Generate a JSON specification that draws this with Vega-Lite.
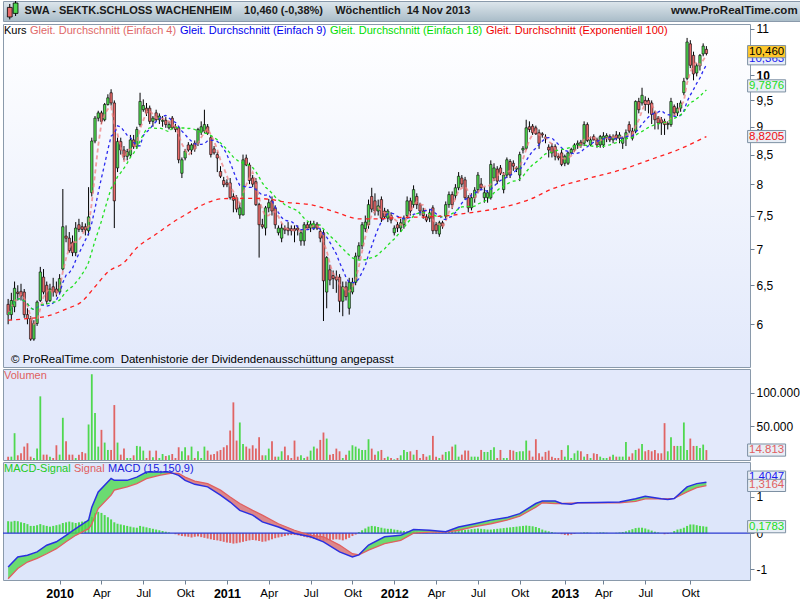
{
"$schema": "https://vega.github.io/schema/vega-lite/v6.json",
"background": "#ffffff",
"padding": {"left": 1, "top": 0, "right": 0, "bottom": 0},
"spacing": 0,
"resolve": {"scale": {"color": "independent"}, "legend": {"color": "independent"}},
"config": {
  "font": "'Liberation Sans',Arial,sans-serif",
  "view": {"stroke": "#8a9aab"},
  "axis": {"labelFont": "'Liberation Sans',Arial,sans-serif", "labelFontSize": 12, "labelColor": "#000000", "tickColor": "#6f8194", "tickSize": 4, "domain": false, "grid": false, "labelPadding": 2},
  "legend": {"orient": "top-left", "direction": "horizontal", "offset": 1, "padding": 0, "symbolType": "circle", "symbolSize": 0, "symbolStrokeWidth": 0, "symbolOpacity": 0, "labelOffset": -11, "columnPadding": 3, "labelFont": "'Liberation Sans',Arial,sans-serif", "labelFontSize": 11, "labelLimit": 600}
},
"datasets": {
"w": [
{"d":"2009-09-14","o":6.25,"h":6.32,"l":6.0,"c":6.12,"v":5000,"m":0.33},
{"d":"2009-09-21","o":6.12,"h":6.4,"l":6.05,"c":6.3,"v":5000,"m":0.32},
{"d":"2009-09-28","o":6.22,"h":6.55,"l":6.15,"c":6.46,"v":40000,"m":0.34},
{"d":"2009-10-05","o":6.41,"h":6.5,"l":6.3,"c":6.39,"v":7000,"m":0.33},
{"d":"2009-10-12","o":6.42,"h":6.52,"l":6.3,"c":6.36,"v":10000,"m":0.3},
{"d":"2009-10-19","o":6.41,"h":6.45,"l":6.08,"c":6.12,"v":20000,"m":0.28},
{"d":"2009-10-26","o":6.12,"h":6.2,"l":6.0,"c":6.07,"v":25000,"m":0.25},
{"d":"2009-11-02","o":6.07,"h":6.1,"l":5.8,"c":5.82,"v":5000,"m":0.2},
{"d":"2009-11-09","o":5.82,"h":6.05,"l":5.8,"c":6.01,"v":3000,"m":0.2},
{"d":"2009-11-16","o":6.01,"h":6.3,"l":5.98,"c":6.28,"v":17000,"m":0.22},
{"d":"2009-11-23","o":6.3,"h":6.75,"l":6.28,"c":6.68,"v":95000,"m":0.25},
{"d":"2009-11-30","o":6.61,"h":6.72,"l":6.38,"c":6.41,"v":8000,"m":0.22},
{"d":"2009-12-07","o":6.5,"h":6.55,"l":6.25,"c":6.29,"v":8000,"m":0.2},
{"d":"2009-12-14","o":6.3,"h":6.52,"l":6.28,"c":6.45,"v":5000,"m":0.18},
{"d":"2009-12-21","o":6.48,"h":6.6,"l":6.35,"c":6.41,"v":3000,"m":0.2},
{"d":"2009-12-28","o":6.45,"h":6.55,"l":6.35,"c":6.4,"v":22000,"m":0.22},
{"d":"2010-01-04","o":6.41,"h":6.65,"l":6.38,"c":6.59,"v":8000,"m":0.24},
{"d":"2010-01-11","o":6.72,"h":7.92,"l":6.7,"c":7.33,"v":63000,"m":0.28},
{"d":"2010-01-18","o":7.19,"h":7.35,"l":7.1,"c":7.16,"v":28000,"m":0.3},
{"d":"2010-01-25","o":7.16,"h":7.25,"l":6.95,"c":6.98,"v":8000,"m":0.32},
{"d":"2010-02-01","o":7.1,"h":7.2,"l":6.9,"c":6.95,"v":8000,"m":0.3},
{"d":"2010-02-08","o":6.95,"h":7.4,"l":6.9,"c":7.31,"v":3000,"m":0.28},
{"d":"2010-02-15","o":7.36,"h":7.45,"l":7.25,"c":7.29,"v":8000,"m":0.3},
{"d":"2010-02-22","o":7.33,"h":7.4,"l":7.25,"c":7.29,"v":12000,"m":0.32},
{"d":"2010-03-01","o":7.33,"h":7.38,"l":7.2,"c":7.28,"v":10000,"m":0.33},
{"d":"2010-03-08","o":7.27,"h":7.95,"l":7.2,"c":7.48,"v":53000,"m":0.38},
{"d":"2010-03-15","o":7.86,"h":8.8,"l":7.8,"c":8.74,"v":128000,"m":0.45},
{"d":"2010-03-22","o":8.74,"h":9.2,"l":8.7,"c":9.16,"v":70000,"m":0.55},
{"d":"2010-03-29","o":9.16,"h":9.3,"l":9.1,"c":9.26,"v":20000,"m":0.59},
{"d":"2010-04-05","o":9.26,"h":9.3,"l":9.05,"c":9.1,"v":45000,"m":0.56},
{"d":"2010-04-12","o":9.13,"h":9.45,"l":9.1,"c":9.42,"v":26000,"m":0.5},
{"d":"2010-04-19","o":9.42,"h":9.62,"l":9.4,"c":9.55,"v":15000,"m":0.44},
{"d":"2010-04-26","o":9.65,"h":9.72,"l":9.4,"c":9.45,"v":15000,"m":0.38},
{"d":"2010-05-03","o":9.45,"h":9.5,"l":7.31,"c":7.73,"v":82000,"m":0.3},
{"d":"2010-05-10","o":8.27,"h":8.8,"l":8.2,"c":8.73,"v":26000,"m":0.26},
{"d":"2010-05-17","o":8.73,"h":8.8,"l":8.5,"c":8.58,"v":8000,"m":0.24},
{"d":"2010-05-24","o":8.58,"h":8.65,"l":8.4,"c":8.47,"v":17000,"m":0.22},
{"d":"2010-05-31","o":8.47,"h":8.6,"l":8.4,"c":8.55,"v":3000,"m":0.2},
{"d":"2010-06-07","o":8.49,"h":8.85,"l":8.45,"c":8.76,"v":3000,"m":0.18},
{"d":"2010-06-14","o":8.76,"h":8.85,"l":8.6,"c":8.64,"v":7000,"m":0.16},
{"d":"2010-06-21","o":8.64,"h":9.0,"l":8.6,"c":8.95,"v":21000,"m":0.15},
{"d":"2010-06-28","o":9.04,"h":9.65,"l":9.0,"c":9.48,"v":20000,"m":0.2},
{"d":"2010-07-05","o":9.32,"h":9.52,"l":9.28,"c":9.4,"v":14000,"m":0.18},
{"d":"2010-07-12","o":9.35,"h":9.45,"l":9.2,"c":9.26,"v":3000,"m":0.16},
{"d":"2010-07-19","o":9.35,"h":9.4,"l":9.05,"c":9.1,"v":14000,"m":0.14},
{"d":"2010-07-26","o":9.1,"h":9.2,"l":9.0,"c":9.16,"v":4000,"m":0.12},
{"d":"2010-08-02","o":9.26,"h":9.32,"l":9.1,"c":9.13,"v":14000,"m":0.1},
{"d":"2010-08-09","o":9.13,"h":9.25,"l":9.05,"c":9.2,"v":3000,"m":0.08},
{"d":"2010-08-16","o":9.1,"h":9.2,"l":9.0,"c":9.12,"v":9000,"m":0.06},
{"d":"2010-08-23","o":9.12,"h":9.18,"l":8.98,"c":9.04,"v":6000,"m":0.04},
{"d":"2010-08-30","o":8.98,"h":9.1,"l":8.95,"c":9.04,"v":7000,"m":0.02},
{"d":"2010-09-06","o":9.16,"h":9.2,"l":8.95,"c":8.98,"v":9000,"m":0.0},
{"d":"2010-09-13","o":9.0,"h":9.05,"l":8.9,"c":8.95,"v":3000,"m":-0.03},
{"d":"2010-09-20","o":8.98,"h":9.0,"l":8.35,"c":8.41,"v":19000,"m":-0.06},
{"d":"2010-09-27","o":8.18,"h":8.45,"l":8.1,"c":8.41,"v":13000,"m":-0.08},
{"d":"2010-10-04","o":8.44,"h":8.6,"l":8.4,"c":8.56,"v":19000,"m":-0.09},
{"d":"2010-10-11","o":8.67,"h":8.72,"l":8.55,"c":8.58,"v":7000,"m":-0.1},
{"d":"2010-10-18","o":8.58,"h":8.7,"l":8.5,"c":8.67,"v":20000,"m":-0.12},
{"d":"2010-10-25","o":8.7,"h":8.75,"l":8.55,"c":8.6,"v":3000,"m":-0.1},
{"d":"2010-11-01","o":8.7,"h":8.98,"l":8.65,"c":8.95,"v":13000,"m":-0.09},
{"d":"2010-11-08","o":8.9,"h":9.1,"l":8.85,"c":9.0,"v":3000,"m":-0.11},
{"d":"2010-11-15","o":8.92,"h":9.32,"l":8.88,"c":9.04,"v":20000,"m":-0.13},
{"d":"2010-11-22","o":9.0,"h":9.05,"l":8.85,"c":8.88,"v":14000,"m":-0.15},
{"d":"2010-11-29","o":8.8,"h":8.85,"l":8.45,"c":8.5,"v":8000,"m":-0.17},
{"d":"2010-12-06","o":8.6,"h":8.65,"l":8.5,"c":8.53,"v":9000,"m":-0.19},
{"d":"2010-12-13","o":8.5,"h":8.55,"l":8.2,"c":8.44,"v":13000,"m":-0.2},
{"d":"2010-12-20","o":8.21,"h":8.3,"l":8.1,"c":8.13,"v":15000,"m":-0.22},
{"d":"2010-12-27","o":8.06,"h":8.12,"l":7.95,"c":7.99,"v":19000,"m":-0.24},
{"d":"2011-01-03","o":8.02,"h":8.08,"l":7.95,"c":7.99,"v":22000,"m":-0.26},
{"d":"2011-01-10","o":8.02,"h":8.1,"l":7.75,"c":7.78,"v":44000,"m":-0.27},
{"d":"2011-01-17","o":7.8,"h":7.85,"l":7.55,"c":7.74,"v":86000,"m":-0.29},
{"d":"2011-01-24","o":7.78,"h":7.82,"l":7.55,"c":7.6,"v":29000,"m":-0.28},
{"d":"2011-01-31","o":7.51,"h":7.7,"l":7.45,"c":7.62,"v":56000,"m":-0.26},
{"d":"2011-02-07","o":7.51,"h":8.5,"l":7.5,"c":8.41,"v":24000,"m":-0.24},
{"d":"2011-02-14","o":8.44,"h":8.5,"l":8.3,"c":8.32,"v":20000,"m":-0.22},
{"d":"2011-02-21","o":8.32,"h":8.36,"l":8.0,"c":8.06,"v":17000,"m":-0.2},
{"d":"2011-02-28","o":8.1,"h":8.15,"l":7.95,"c":8.0,"v":22000,"m":-0.19},
{"d":"2011-03-07","o":8.04,"h":8.1,"l":7.65,"c":7.67,"v":17000,"m":-0.2},
{"d":"2011-03-14","o":7.67,"h":7.7,"l":6.88,"c":7.36,"v":34000,"m":-0.22},
{"d":"2011-03-21","o":7.36,"h":7.45,"l":7.3,"c":7.33,"v":7000,"m":-0.24},
{"d":"2011-03-28","o":7.31,"h":7.65,"l":7.2,"c":7.62,"v":7000,"m":-0.23},
{"d":"2011-04-04","o":7.62,"h":7.76,"l":7.55,"c":7.7,"v":17000,"m":-0.2},
{"d":"2011-04-11","o":7.73,"h":7.8,"l":7.5,"c":7.57,"v":28000,"m":-0.17},
{"d":"2011-04-18","o":7.62,"h":7.66,"l":7.3,"c":7.36,"v":5000,"m":-0.14},
{"d":"2011-04-25","o":7.24,"h":7.35,"l":7.2,"c":7.31,"v":5000,"m":-0.12},
{"d":"2011-05-02","o":7.16,"h":7.38,"l":7.1,"c":7.31,"v":13000,"m":-0.1},
{"d":"2011-05-09","o":7.31,"h":7.35,"l":7.22,"c":7.28,"v":20000,"m":-0.08},
{"d":"2011-05-16","o":7.31,"h":7.4,"l":7.2,"c":7.27,"v":7000,"m":-0.06},
{"d":"2011-05-23","o":7.3,"h":7.35,"l":7.2,"c":7.27,"v":3000,"m":-0.05},
{"d":"2011-05-30","o":7.3,"h":7.35,"l":7.1,"c":7.27,"v":29000,"m":-0.05},
{"d":"2011-06-06","o":7.31,"h":7.35,"l":7.2,"c":7.28,"v":5000,"m":-0.06},
{"d":"2011-06-13","o":7.12,"h":7.28,"l":7.05,"c":7.24,"v":7000,"m":-0.08},
{"d":"2011-06-20","o":7.12,"h":7.4,"l":7.05,"c":7.36,"v":3000,"m":-0.1},
{"d":"2011-06-27","o":7.36,"h":7.4,"l":7.28,"c":7.31,"v":5000,"m":-0.12},
{"d":"2011-07-04","o":7.31,"h":7.42,"l":7.25,"c":7.37,"v":14000,"m":-0.14},
{"d":"2011-07-11","o":7.31,"h":7.42,"l":7.28,"c":7.37,"v":20000,"m":-0.16},
{"d":"2011-07-18","o":7.37,"h":7.4,"l":7.28,"c":7.31,"v":17000,"m":-0.18},
{"d":"2011-07-25","o":7.26,"h":7.3,"l":7.1,"c":7.16,"v":30000,"m":-0.2},
{"d":"2011-08-01","o":7.24,"h":7.28,"l":6.04,"c":6.56,"v":41000,"m":-0.21},
{"d":"2011-08-08","o":6.41,"h":6.9,"l":6.2,"c":6.88,"v":32000,"m":-0.2},
{"d":"2011-08-15","o":6.71,"h":6.78,"l":6.5,"c":6.57,"v":8000,"m":-0.19},
{"d":"2011-08-22","o":6.63,"h":6.7,"l":6.45,"c":6.59,"v":9000,"m":-0.18},
{"d":"2011-08-29","o":6.61,"h":6.7,"l":6.4,"c":6.57,"v":17000,"m":-0.17},
{"d":"2011-09-05","o":6.61,"h":6.65,"l":6.15,"c":6.29,"v":13000,"m":-0.18},
{"d":"2011-09-12","o":6.29,"h":6.55,"l":6.1,"c":6.48,"v":3000,"m":-0.2},
{"d":"2011-09-19","o":6.48,"h":6.55,"l":6.3,"c":6.35,"v":8000,"m":-0.17},
{"d":"2011-09-26","o":6.2,"h":6.6,"l":6.12,"c":6.54,"v":14000,"m":-0.13},
{"d":"2011-10-03","o":6.41,"h":6.6,"l":6.38,"c":6.54,"v":22000,"m":-0.08},
{"d":"2011-10-10","o":6.54,"h":6.95,"l":6.5,"c":6.9,"v":20000,"m":-0.04},
{"d":"2011-10-17","o":6.9,"h":7.1,"l":6.85,"c":7.05,"v":17000,"m":0.03},
{"d":"2011-10-24","o":7.05,"h":7.4,"l":7.0,"c":7.36,"v":15000,"m":0.08},
{"d":"2011-10-31","o":7.3,"h":7.5,"l":7.25,"c":7.4,"v":15000,"m":0.13},
{"d":"2011-11-07","o":7.36,"h":7.75,"l":7.3,"c":7.67,"v":31000,"m":0.18},
{"d":"2011-11-14","o":7.8,"h":7.94,"l":7.55,"c":7.6,"v":17000,"m":0.2},
{"d":"2011-11-21","o":7.73,"h":7.85,"l":7.5,"c":7.57,"v":8000,"m":0.19},
{"d":"2011-11-28","o":7.57,"h":7.75,"l":7.5,"c":7.65,"v":13000,"m":0.17},
{"d":"2011-12-05","o":7.75,"h":7.8,"l":7.4,"c":7.46,"v":15000,"m":0.15},
{"d":"2011-12-12","o":7.57,"h":7.62,"l":7.45,"c":7.48,"v":3000,"m":0.13},
{"d":"2011-12-19","o":7.46,"h":7.6,"l":7.4,"c":7.57,"v":5000,"m":0.12},
{"d":"2011-12-26","o":7.5,"h":7.55,"l":7.38,"c":7.43,"v":3000,"m":0.12},
{"d":"2012-01-02","o":7.24,"h":7.35,"l":7.2,"c":7.31,"v":1000,"m":0.1},
{"d":"2012-01-09","o":7.36,"h":7.4,"l":7.25,"c":7.31,"v":3000,"m":0.09},
{"d":"2012-01-16","o":7.31,"h":7.45,"l":7.25,"c":7.39,"v":7000,"m":0.07},
{"d":"2012-01-23","o":7.36,"h":7.5,"l":7.3,"c":7.46,"v":15000,"m":0.06},
{"d":"2012-01-30","o":7.5,"h":7.8,"l":7.45,"c":7.73,"v":12000,"m":0.05},
{"d":"2012-02-06","o":7.73,"h":7.78,"l":7.5,"c":7.57,"v":13000,"m":0.04},
{"d":"2012-02-13","o":7.67,"h":7.98,"l":7.62,"c":7.91,"v":8000,"m":0.05},
{"d":"2012-02-20","o":7.8,"h":7.85,"l":7.6,"c":7.67,"v":15000,"m":0.04},
{"d":"2012-02-27","o":7.67,"h":7.7,"l":7.5,"c":7.57,"v":3000,"m":0.03},
{"d":"2012-03-05","o":7.57,"h":7.62,"l":7.45,"c":7.5,"v":9000,"m":0.02},
{"d":"2012-03-12","o":7.48,"h":7.52,"l":7.4,"c":7.43,"v":5000,"m":0.01},
{"d":"2012-03-19","o":7.46,"h":7.6,"l":7.4,"c":7.54,"v":7000,"m":0.0},
{"d":"2012-03-26","o":7.62,"h":7.66,"l":7.22,"c":7.27,"v":36000,"m":0.01},
{"d":"2012-04-02","o":7.36,"h":7.4,"l":7.22,"c":7.27,"v":5000,"m":0.02},
{"d":"2012-04-09","o":7.22,"h":7.42,"l":7.18,"c":7.39,"v":3000,"m":0.03},
{"d":"2012-04-16","o":7.39,"h":7.42,"l":7.3,"c":7.34,"v":8000,"m":0.04},
{"d":"2012-04-23","o":7.49,"h":7.72,"l":7.45,"c":7.67,"v":12000,"m":0.06},
{"d":"2012-04-30","o":7.67,"h":7.88,"l":7.62,"c":7.83,"v":13000,"m":0.08},
{"d":"2012-05-07","o":7.83,"h":7.88,"l":7.6,"c":7.67,"v":20000,"m":0.09},
{"d":"2012-05-14","o":7.81,"h":8.0,"l":7.75,"c":7.94,"v":23000,"m":0.1},
{"d":"2012-05-21","o":7.94,"h":8.2,"l":7.9,"c":8.13,"v":5000,"m":0.11},
{"d":"2012-05-28","o":8.1,"h":8.15,"l":7.95,"c":8.0,"v":8000,"m":0.1},
{"d":"2012-06-04","o":8.07,"h":8.12,"l":7.75,"c":7.78,"v":14000,"m":0.09},
{"d":"2012-06-11","o":7.78,"h":7.82,"l":7.55,"c":7.62,"v":14000,"m":0.1},
{"d":"2012-06-18","o":7.62,"h":7.85,"l":7.58,"c":7.78,"v":5000,"m":0.11},
{"d":"2012-06-25","o":7.78,"h":7.95,"l":7.7,"c":7.9,"v":5000,"m":0.12},
{"d":"2012-07-02","o":7.91,"h":8.2,"l":7.85,"c":8.15,"v":5000,"m":0.13},
{"d":"2012-07-09","o":8.0,"h":8.1,"l":7.9,"c":7.94,"v":15000,"m":0.12},
{"d":"2012-07-16","o":7.78,"h":7.95,"l":7.7,"c":7.86,"v":12000,"m":0.11},
{"d":"2012-07-23","o":7.78,"h":7.9,"l":7.7,"c":7.86,"v":12000,"m":0.1},
{"d":"2012-07-30","o":7.78,"h":8.4,"l":7.75,"c":8.33,"v":15000,"m":0.1},
{"d":"2012-08-06","o":8.1,"h":8.35,"l":8.05,"c":8.27,"v":19000,"m":0.11},
{"d":"2012-08-13","o":8.25,"h":8.3,"l":8.0,"c":8.05,"v":3000,"m":0.12},
{"d":"2012-08-20","o":8.27,"h":8.32,"l":8.15,"c":8.18,"v":15000,"m":0.13},
{"d":"2012-08-27","o":7.91,"h":8.2,"l":7.85,"c":8.15,"v":3000,"m":0.14},
{"d":"2012-09-03","o":8.15,"h":8.45,"l":8.1,"c":8.41,"v":3000,"m":0.15},
{"d":"2012-09-10","o":8.38,"h":8.42,"l":8.1,"c":8.15,"v":15000,"m":0.16},
{"d":"2012-09-17","o":8.35,"h":8.4,"l":8.22,"c":8.3,"v":14000,"m":0.17},
{"d":"2012-09-24","o":8.25,"h":8.3,"l":8.2,"c":8.27,"v":12000,"m":0.18},
{"d":"2012-10-01","o":8.15,"h":8.55,"l":8.05,"c":8.5,"v":13000,"m":0.19},
{"d":"2012-10-08","o":8.58,"h":8.65,"l":8.52,"c":8.61,"v":13000,"m":0.2},
{"d":"2012-10-15","o":8.61,"h":9.13,"l":8.58,"c":8.98,"v":29000,"m":0.21},
{"d":"2012-10-22","o":9.0,"h":9.1,"l":8.9,"c":8.95,"v":14000,"m":0.2},
{"d":"2012-10-29","o":9.01,"h":9.05,"l":8.85,"c":8.89,"v":5000,"m":0.19},
{"d":"2012-11-05","o":8.98,"h":9.02,"l":8.85,"c":8.87,"v":31000,"m":0.17},
{"d":"2012-11-12","o":8.89,"h":8.95,"l":8.6,"c":8.7,"v":10000,"m":0.14},
{"d":"2012-11-19","o":8.87,"h":8.9,"l":8.8,"c":8.85,"v":5000,"m":0.1},
{"d":"2012-11-26","o":8.81,"h":8.86,"l":8.7,"c":8.79,"v":12000,"m":0.07},
{"d":"2012-12-03","o":8.63,"h":8.68,"l":8.45,"c":8.58,"v":14000,"m":0.05},
{"d":"2012-12-10","o":8.64,"h":8.7,"l":8.45,"c":8.53,"v":5000,"m":0.03},
{"d":"2012-12-17","o":8.64,"h":8.68,"l":8.4,"c":8.47,"v":3000,"m":0.01},
{"d":"2012-12-24","o":8.47,"h":8.52,"l":8.4,"c":8.44,"v":3000,"m":-0.01},
{"d":"2012-12-31","o":8.53,"h":8.58,"l":8.3,"c":8.33,"v":15000,"m":-0.03},
{"d":"2013-01-07","o":8.35,"h":8.5,"l":8.3,"c":8.47,"v":5000,"m":-0.05},
{"d":"2013-01-14","o":8.35,"h":8.55,"l":8.32,"c":8.53,"v":22000,"m":-0.06},
{"d":"2013-01-21","o":8.53,"h":8.62,"l":8.5,"c":8.59,"v":3000,"m":-0.04},
{"d":"2013-01-28","o":8.58,"h":8.7,"l":8.55,"c":8.67,"v":10000,"m":-0.02},
{"d":"2013-02-04","o":8.67,"h":8.75,"l":8.6,"c":8.7,"v":14000,"m":0.0},
{"d":"2013-02-11","o":8.72,"h":8.76,"l":8.62,"c":8.66,"v":13000,"m":0.01},
{"d":"2013-02-18","o":8.7,"h":9.1,"l":8.65,"c":9.04,"v":5000,"m":0.02},
{"d":"2013-02-25","o":9.04,"h":9.08,"l":8.72,"c":8.75,"v":9000,"m":0.02},
{"d":"2013-03-04","o":8.67,"h":8.82,"l":8.65,"c":8.76,"v":3000,"m":0.01},
{"d":"2013-03-11","o":8.82,"h":8.86,"l":8.75,"c":8.76,"v":10000,"m":0.0},
{"d":"2013-03-18","o":8.76,"h":8.8,"l":8.62,"c":8.67,"v":9000,"m":0.01},
{"d":"2013-03-25","o":8.67,"h":8.85,"l":8.62,"c":8.82,"v":5000,"m":0.02},
{"d":"2013-04-01","o":8.67,"h":8.9,"l":8.62,"c":8.83,"v":3000,"m":0.02},
{"d":"2013-04-08","o":8.8,"h":8.88,"l":8.72,"c":8.84,"v":3000,"m":0.01},
{"d":"2013-04-15","o":8.82,"h":8.86,"l":8.72,"c":8.76,"v":5000,"m":0.0},
{"d":"2013-04-22","o":8.76,"h":8.86,"l":8.7,"c":8.82,"v":8000,"m":0.0},
{"d":"2013-04-29","o":8.85,"h":8.92,"l":8.75,"c":8.79,"v":5000,"m":0.01},
{"d":"2013-05-06","o":8.79,"h":8.9,"l":8.7,"c":8.85,"v":5000,"m":0.02},
{"d":"2013-05-13","o":8.7,"h":8.82,"l":8.6,"c":8.79,"v":5000,"m":0.03},
{"d":"2013-05-20","o":8.79,"h":8.95,"l":8.65,"c":8.89,"v":27000,"m":0.05},
{"d":"2013-05-27","o":9.04,"h":9.1,"l":8.88,"c":8.92,"v":5000,"m":0.08},
{"d":"2013-06-03","o":8.92,"h":8.98,"l":8.75,"c":8.79,"v":10000,"m":0.11},
{"d":"2013-06-10","o":8.92,"h":9.5,"l":8.88,"c":9.48,"v":15000,"m":0.14},
{"d":"2013-06-17","o":9.48,"h":9.55,"l":9.25,"c":9.32,"v":17000,"m":0.15},
{"d":"2013-06-24","o":9.45,"h":9.75,"l":9.4,"c":9.6,"v":24000,"m":0.15},
{"d":"2013-07-01","o":9.5,"h":9.58,"l":9.3,"c":9.42,"v":13000,"m":0.13},
{"d":"2013-07-08","o":9.5,"h":9.55,"l":9.25,"c":9.42,"v":15000,"m":0.1},
{"d":"2013-07-15","o":9.45,"h":9.5,"l":9.05,"c":9.23,"v":13000,"m":0.07},
{"d":"2013-07-22","o":9.26,"h":9.3,"l":8.95,"c":9.13,"v":15000,"m":0.04},
{"d":"2013-07-29","o":9.16,"h":9.2,"l":8.95,"c":9.07,"v":10000,"m":0.02},
{"d":"2013-08-05","o":9.13,"h":9.18,"l":8.85,"c":9.07,"v":10000,"m":0.0},
{"d":"2013-08-12","o":9.1,"h":9.15,"l":8.85,"c":9.04,"v":55000,"m":-0.03},
{"d":"2013-08-19","o":9.04,"h":9.1,"l":8.95,"c":9.06,"v":13000,"m":-0.02},
{"d":"2013-08-26","o":9.04,"h":9.55,"l":9.0,"c":9.48,"v":34000,"m":0.01},
{"d":"2013-09-02","o":9.38,"h":9.42,"l":9.2,"c":9.26,"v":21000,"m":0.06},
{"d":"2013-09-09","o":9.26,"h":9.45,"l":9.2,"c":9.35,"v":21000,"m":0.1},
{"d":"2013-09-16","o":9.35,"h":9.5,"l":9.28,"c":9.45,"v":21000,"m":0.12},
{"d":"2013-09-23","o":9.65,"h":9.95,"l":9.6,"c":9.88,"v":56000,"m":0.15},
{"d":"2013-09-30","o":9.94,"h":10.8,"l":9.9,"c":10.71,"v":15000,"m":0.2},
{"d":"2013-10-07","o":10.67,"h":10.75,"l":10.15,"c":10.21,"v":32000,"m":0.24},
{"d":"2013-10-14","o":10.42,"h":10.5,"l":9.9,"c":10.03,"v":21000,"m":0.24},
{"d":"2013-10-21","o":10.05,"h":10.25,"l":9.98,"c":10.2,"v":21000,"m":0.22},
{"d":"2013-10-28","o":10.2,"h":10.45,"l":10.1,"c":10.42,"v":18000,"m":0.2},
{"d":"2013-11-04","o":10.45,"h":10.68,"l":10.4,"c":10.62,"v":23000,"m":0.19},
{"d":"2013-11-11","o":10.55,"h":10.62,"l":10.42,"c":10.46,"v":14813,"m":0.178}
],
"ema": [
{"d":"2009-09-14","e":6.05},{"d":"2009-10-26","e":6.07},{"d":"2009-12-07","e":6.1},{"d":"2010-01-18","e":6.19},{"d":"2010-02-22","e":6.29},{"d":"2010-03-22","e":6.48},{"d":"2010-04-19","e":6.68},{"d":"2010-05-24","e":6.81},{"d":"2010-06-21","e":7.02},{"d":"2010-08-02","e":7.22},{"d":"2010-09-06","e":7.39},{"d":"2010-10-11","e":7.54},{"d":"2010-11-15","e":7.68},{"d":"2010-12-20","e":7.76},{"d":"2011-01-24","e":7.77},{"d":"2011-02-28","e":7.77},{"d":"2011-04-11","e":7.75},{"d":"2011-05-09","e":7.71},{"d":"2011-07-11","e":7.66},{"d":"2011-08-29","e":7.55},{"d":"2011-10-17","e":7.45},{"d":"2011-11-28","e":7.45},{"d":"2012-01-16","e":7.47},{"d":"2012-03-19","e":7.48},{"d":"2012-04-30","e":7.5},{"d":"2012-06-11","e":7.54},{"d":"2012-08-06","e":7.6},{"d":"2012-09-17","e":7.67},{"d":"2012-10-22","e":7.75},{"d":"2012-12-10","e":7.92},{"d":"2013-02-25","e":8.09},{"d":"2013-05-06","e":8.23},{"d":"2013-07-15","e":8.42},{"d":"2013-09-09","e":8.58},{"d":"2013-11-11","e":8.82}
],
"macd": [
{"d":"2009-09-14","m":-0.935,"s":-1.26,"seg":1,"tr":"G"},{"d":"2009-10-05","m":-0.66,"s":-0.98,"seg":1,"tr":"G"},{"d":"2009-10-26","m":-0.61,"s":-0.8,"seg":1,"tr":"G"},{"d":"2009-11-16","m":-0.52,"s":-0.7,"seg":1,"tr":"G"},{"d":"2009-12-07","m":-0.335,"s":-0.57,"seg":1,"tr":"G"},{"d":"2009-12-28","m":-0.24,"s":-0.43,"seg":1,"tr":"G"},{"d":"2010-01-18","m":-0.06,"s":-0.24,"seg":1,"tr":"G"},{"d":"2010-02-08","m":0.125,"s":-0.06,"seg":1,"tr":"G"},{"d":"2010-03-08","m":0.36,"s":0.125,"seg":1,"tr":"G"},{"d":"2010-03-15","m":0.72,"s":0.25,"seg":1,"tr":"G"},{"d":"2010-03-29","m":1.14,"s":0.68,"seg":1,"tr":"G"},{"d":"2010-04-26","m":1.51,"s":1.05,"seg":1,"tr":"G"},{"d":"2010-05-03","m":1.46,"s":1.19,"seg":1,"tr":"G"},{"d":"2010-05-31","m":1.46,"s":1.28,"seg":1,"tr":"G"},{"d":"2010-06-21","m":1.55,"s":1.37,"seg":1,"tr":"G"},{"d":"2010-07-12","m":1.69,"s":1.51,"seg":1,"tr":"G"},{"d":"2010-08-09","m":1.69,"s":1.6,"seg":1,"tr":"G"},{"d":"2010-08-30","m":1.69,"s":1.65,"seg":1,"tr":"G"},{"d":"2010-09-06","m":1.66,"s":1.66,"seg":1,"tr":"G"},
{"d":"2010-09-06","m":1.66,"s":1.66,"seg":2,"tr":"R"},{"d":"2010-09-20","m":1.6,"s":1.65,"seg":2,"tr":"R"},{"d":"2010-10-04","m":1.46,"s":1.55,"seg":2,"tr":"R"},{"d":"2010-10-25","m":1.35,"s":1.44,"seg":2,"tr":"R"},{"d":"2010-11-22","m":1.28,"s":1.37,"seg":2,"tr":"R"},{"d":"2010-12-20","m":1.05,"s":1.19,"seg":2,"tr":"R"},{"d":"2011-01-10","m":0.86,"s":1.0,"seg":2,"tr":"R"},{"d":"2011-01-31","m":0.63,"s":0.82,"seg":2,"tr":"R"},{"d":"2011-02-28","m":0.5,"s":0.63,"seg":2,"tr":"R"},{"d":"2011-03-21","m":0.31,"s":0.5,"seg":2,"tr":"R"},{"d":"2011-04-25","m":0.17,"s":0.26,"seg":2,"tr":"R"},{"d":"2011-05-30","m":-0.01,"s":0.08,"seg":2,"tr":"R"},{"d":"2011-07-04","m":-0.1,"s":-0.06,"seg":2,"tr":"R"},{"d":"2011-08-01","m":-0.24,"s":-0.1,"seg":2,"tr":"R"},{"d":"2011-09-05","m":-0.52,"s":-0.33,"seg":2,"tr":"R"},{"d":"2011-10-03","m":-0.66,"s":-0.57,"seg":2,"tr":"R"},{"d":"2011-10-17","m":-0.6,"s":-0.6,"seg":2,"tr":"R"},
{"d":"2011-10-17","m":-0.6,"s":-0.6,"seg":3,"tr":"G"},{"d":"2011-11-07","m":-0.33,"s":-0.47,"seg":3,"tr":"G"},{"d":"2011-12-12","m":-0.1,"s":-0.29,"seg":3,"tr":"G"},{"d":"2012-01-16","m":-0.06,"s":-0.2,"seg":3,"tr":"G"},{"d":"2012-02-13","m":0.1,"s":0.0,"seg":3,"tr":"G"},{"d":"2012-03-19","m":0.08,"s":0.03,"seg":3,"tr":"G"},{"d":"2012-04-23","m":0.04,"s":0.03,"seg":3,"tr":"G"},{"d":"2012-05-21","m":0.17,"s":0.08,"seg":3,"tr":"G"},{"d":"2012-06-25","m":0.26,"s":0.18,"seg":3,"tr":"G"},{"d":"2012-07-30","m":0.36,"s":0.26,"seg":3,"tr":"G"},{"d":"2012-09-03","m":0.43,"s":0.36,"seg":3,"tr":"G"},{"d":"2012-10-01","m":0.54,"s":0.47,"seg":3,"tr":"G"},{"d":"2012-11-05","m":0.82,"s":0.72,"seg":3,"tr":"G"},{"d":"2012-11-19","m":0.89,"s":0.84,"seg":3,"tr":"G"},{"d":"2012-12-17","m":0.89,"s":0.82,"seg":3,"tr":"G"},{"d":"2012-12-31","m":0.82,"s":0.82,"seg":3,"tr":"G"},
{"d":"2012-12-31","m":0.82,"s":0.82,"seg":4,"tr":"R"},{"d":"2013-01-21","m":0.8,"s":0.83,"seg":4,"tr":"R"},{"d":"2013-02-04","m":0.84,"s":0.84,"seg":4,"tr":"R"},
{"d":"2013-02-04","m":0.84,"s":0.84,"seg":5,"tr":"G"},{"d":"2013-03-18","m":0.85,"s":0.84,"seg":5,"tr":"G"},{"d":"2013-05-06","m":0.86,"s":0.84,"seg":5,"tr":"G"},{"d":"2013-06-10","m":0.95,"s":0.88,"seg":5,"tr":"G"},{"d":"2013-07-01","m":1.02,"s":0.95,"seg":5,"tr":"G"},{"d":"2013-08-05","m":0.95,"s":0.95,"seg":5,"tr":"G"},
{"d":"2013-08-05","m":0.95,"s":0.95,"seg":6,"tr":"R"},{"d":"2013-08-19","m":0.93,"s":0.95,"seg":6,"tr":"R"},{"d":"2013-09-02","m":0.96,"s":0.96,"seg":6,"tr":"R"},
{"d":"2013-09-02","m":0.96,"s":0.96,"seg":7,"tr":"G"},{"d":"2013-09-30","m":1.28,"s":1.14,"seg":7,"tr":"G"},{"d":"2013-10-21","m":1.37,"s":1.26,"seg":7,"tr":"G"},{"d":"2013-11-11","m":1.4047,"s":1.3164,"seg":7,"tr":"G"}
],
"pbox": [
{"d":"2014-03-22","v":10.347,"t":"10,363","k":"b","z":0},
{"d":"2014-03-22","v":10.5,"t":"10,460","k":"k","z":1},
{"d":"2014-03-22","v":9.7876,"t":"9,7876","k":"g","z":1},
{"d":"2014-03-22","v":8.8205,"t":"8,8205","k":"r","z":1}
],
"vbox": [
{"d":"2014-03-22","v":14813,"t":"14.813","k":"p","z":1}
],
"mbox": [
{"d":"2014-03-22","v":1.55,"t":"1,4047","k":"b","z":0},
{"d":"2014-03-22","v":1.32,"t":"1,3164","k":"p","z":1},
{"d":"2014-03-22","v":0.1783,"t":"0,1783","k":"g","z":1}
]
},
"vconcat": [
{
  "width": 797, "height": 20,
  "view": {"fill": {"gradient": "linear", "x1": 0, "y1": 0, "x2": 0, "y2": 1, "stops": [{"offset": 0, "color": "#dde6ec"}, {"offset": 1, "color": "#a9bcc8"}]}, "stroke": "#8a9aab"},
  "layer": [
    {"data": {"values": [{}]}, "mark": {"type": "rule", "color": "#000000", "strokeWidth": 1},
     "encoding": {"x": {"datum": 0.0085, "type": "quantitative", "scale": {"domain": [0, 1], "nice": false, "zero": false}, "axis": null}, "y": {"datum": 0.08, "type": "quantitative", "scale": {"domain": [0, 1], "nice": false}, "axis": null}, "y2": {"datum": 0.85}}},
    {"data": {"values": [{}]}, "mark": {"type": "rule", "color": "#000000", "strokeWidth": 1},
     "encoding": {"x": {"datum": 0.0158, "type": "quantitative", "axis": null}, "y": {"datum": 0.25, "type": "quantitative", "axis": null}, "y2": {"datum": 1.0}}},
    {"data": {"values": [{}]}, "mark": {"type": "rect", "fill": "#e86a6a", "stroke": "#000000", "strokeWidth": 0.8},
     "encoding": {"x": {"datum": 0.0055, "type": "quantitative", "axis": null}, "x2": {"datum": 0.0115}, "y": {"datum": 0.2, "type": "quantitative", "axis": null}, "y2": {"datum": 0.68}}},
    {"data": {"values": [{}]}, "mark": {"type": "rect", "fill": "#4fd84f", "stroke": "#000000", "strokeWidth": 0.8},
     "encoding": {"x": {"datum": 0.0128, "type": "quantitative", "axis": null}, "x2": {"datum": 0.0188}, "y": {"datum": 0.38, "type": "quantitative", "axis": null}, "y2": {"datum": 0.9}}},
    {"data": {"values": [{"t": "SWA - SEKTK.SCHLOSS WACHENHEIM\u00a0\u00a0\u00a0\u00a010,460 (-0,38%)\u00a0\u00a0\u00a0\u00a0Wöchentlich\u00a0\u00a014 Nov 2013"}]},
     "mark": {"type": "text", "align": "left", "baseline": "middle", "fontWeight": "bold", "fontSize": 11, "color": "#1a1a1a"},
     "encoding": {"x": {"datum": 0.027, "type": "quantitative", "axis": null}, "y": {"datum": 0.5, "type": "quantitative", "axis": null}, "text": {"field": "t"}}},
    {"data": {"values": [{"t": "www.ProRealTime.com"}]},
     "mark": {"type": "text", "align": "right", "baseline": "middle", "fontWeight": "bold", "fontSize": 11.5, "color": "#1a1a1a"},
     "encoding": {"x": {"datum": 0.997, "type": "quantitative", "axis": null}, "y": {"datum": 0.5, "type": "quantitative", "axis": null}, "text": {"field": "t"}}}
  ]
},
{
  "width": 747, "height": 343,
  "view": {"fill": {"gradient": "linear", "x1": 0, "y1": 0, "x2": 0, "y2": 1, "stops": [{"offset": 0, "color": "#ffffff"}, {"offset": 1, "color": "#e2e9fb"}]}},
  "layer": [
    {"data": {"name": "w"}, "mark": {"type": "rule", "color": "#000000", "strokeWidth": 1},
     "encoding": {"x": {"field": "d", "type": "temporal", "scale": {"domain": [{"year": 2009, "month": 9, "date": 13, "hours": 17, "utc": true}, {"year": 2014, "month": 2, "date": 3, "utc": true}]}, "axis": null},
       "y": {"field": "l", "type": "quantitative", "scale": {"type": "log", "domain": [5.496, 11.113], "nice": false, "zero": false},
             "axis": {"orient": "right", "title": null, "values": [6, 6.5, 7, 7.5, 8, 8.5, 9, 9.5, 10, 11], "labelExpr": "replace('' + datum.value, '.', ',')", "labelFontWeight": {"condition": {"test": "datum.value == 10", "value": "bold"}, "value": "normal"}}},
       "y2": {"field": "h"}}},
    {"data": {"name": "w"}, "mark": {"type": "bar", "size": 2.4, "stroke": "#000000", "strokeWidth": 0.6},
     "encoding": {"x": {"field": "d", "type": "temporal", "axis": null},
       "y": {"field": "o", "type": "quantitative", "axis": {"title": null}}, "y2": {"field": "c"},
       "fill": {"condition": {"test": "datum.c >= datum.o", "value": "#4fd84f"}, "value": "#e86a6a"}}},
    {"data": {"name": "w"}, "transform": [{"window": [{"op": "mean", "field": "c", "as": "a"}], "frame": [-3, 0], "sort": [{"field": "d"}]}],
     "mark": {"type": "line", "color": "#f08080", "strokeWidth": 1.8, "strokeDash": [4, 3], "opacity": 0.75},
     "encoding": {"x": {"field": "d", "type": "temporal", "axis": null}, "y": {"field": "a", "type": "quantitative", "axis": {"title": null}}}},
    {"data": {"name": "w"}, "transform": [{"window": [{"op": "mean", "field": "c", "as": "a"}], "frame": [-8, 0], "sort": [{"field": "d"}]}],
     "mark": {"type": "line", "color": "#2a2af0", "strokeWidth": 1.3, "strokeDash": [3, 3]},
     "encoding": {"x": {"field": "d", "type": "temporal", "axis": null}, "y": {"field": "a", "type": "quantitative", "axis": {"title": null}}}},
    {"data": {"name": "w"}, "transform": [{"window": [{"op": "mean", "field": "c", "as": "a"}], "frame": [-17, 0], "sort": [{"field": "d"}]}],
     "mark": {"type": "line", "color": "#22e022", "strokeWidth": 1.3, "strokeDash": [3, 3]},
     "encoding": {"x": {"field": "d", "type": "temporal", "axis": null}, "y": {"field": "a", "type": "quantitative", "axis": {"title": null}}}},
    {"data": {"name": "ema"},
     "mark": {"type": "line", "color": "#ff2020", "strokeWidth": 1.3, "strokeDash": [4, 4], "interpolate": "monotone"},
     "encoding": {"x": {"field": "d", "type": "temporal", "axis": null}, "y": {"field": "e", "type": "quantitative", "axis": {"title": null}}}},
    {"data": {"values": [{"t": "© ProRealTime.com\u00a0\u00a0Datenhistorie der Dividendenausschüttung angepasst"}]},
     "mark": {"type": "text", "align": "left", "baseline": "bottom", "dx": 3, "dy": -2, "fontSize": 11.5, "color": "#000000"},
     "encoding": {"x": {"datum": {"year": 2009, "month": 9, "date": 13, "hours": 17, "utc": true}, "type": "temporal", "axis": null}, "y": {"datum": 5.496, "type": "quantitative", "axis": {"title": null}}, "text": {"field": "t"}}},
    {"data": {"name": "pbox"}, "transform": [{"filter": "datum.z == 0"}],
     "encoding": {"x": {"field": "d", "type": "temporal", "axis": null}, "y": {"field": "v", "type": "quantitative", "axis": {"title": null}}},
     "layer": [
       {"mark": {"type": "point", "shape": "M-1,-0.32L1,-0.32L1,0.32L-1,0.32Z", "size": 1444, "filled": true, "opacity": 1, "stroke": "#7d90a3", "strokeWidth": 1, "clip": false},
        "encoding": {"fill": {"condition": {"test": "datum.k == 'k'", "value": "#ffc82a"}, "value": "#e8eef6"}}},
       {"mark": {"type": "text", "fontSize": 11.5, "clip": false},
        "encoding": {"text": {"field": "t"}, "fill": {"condition": [{"test": "datum.k == 'b'", "value": "#1c1cf0"}, {"test": "datum.k == 'g'", "value": "#22dd22"}, {"test": "datum.k == 'r'", "value": "#f01010"}, {"test": "datum.k == 'p'", "value": "#e06060"}], "value": "#000000"}}}
     ]},
    {"data": {"name": "pbox"}, "transform": [{"filter": "datum.z == 1"}],
     "encoding": {"x": {"field": "d", "type": "temporal", "axis": null}, "y": {"field": "v", "type": "quantitative", "axis": {"title": null}}},
     "layer": [
       {"mark": {"type": "point", "shape": "M-1,-0.32L1,-0.32L1,0.32L-1,0.32Z", "size": 1444, "filled": true, "opacity": 1, "stroke": "#7d90a3", "strokeWidth": 1, "clip": false},
        "encoding": {"fill": {"condition": {"test": "datum.k == 'k'", "value": "#ffc82a"}, "value": "#e8eef6"}}},
       {"mark": {"type": "text", "fontSize": 11.5, "clip": false},
        "encoding": {"text": {"field": "t"}, "fill": {"condition": [{"test": "datum.k == 'b'", "value": "#1c1cf0"}, {"test": "datum.k == 'g'", "value": "#22dd22"}, {"test": "datum.k == 'r'", "value": "#f01010"}, {"test": "datum.k == 'p'", "value": "#e06060"}], "value": "#000000"}}}
     ]},
    {"data": {"values": [{"k": "Kurs"}, {"k": "Gleit. Durchschnitt (Einfach 4)"}, {"k": "Gleit. Durchschnitt (Einfach 9)"}, {"k": "Gleit. Durchschnitt (Einfach 18)"}, {"k": "Gleit. Durchschnitt (Exponentiell 100)"}]},
     "mark": {"type": "point", "opacity": 0, "size": 0, "strokeWidth": 0},
     "encoding": {"color": {"field": "k", "type": "nominal",
        "scale": {"domain": ["Kurs", "Gleit. Durchschnitt (Einfach 4)", "Gleit. Durchschnitt (Einfach 9)", "Gleit. Durchschnitt (Einfach 18)", "Gleit. Durchschnitt (Exponentiell 100)"], "range": ["#000000", "#e06868", "#0000ee", "#00dd00", "#ee0000"]},
        "legend": {"title": null, "labelColor": {"expr": "datum.label == 'Kurs' ? '#000000' : indexof(datum.label, 'Einfach 4)') >= 0 ? '#e06868' : indexof(datum.label, 'Einfach 9)') >= 0 ? '#0000ee' : indexof(datum.label, 'Einfach 18)') >= 0 ? '#00dd00' : '#ee0000'"}}}}}
  ]
},
{
  "width": 747, "height": 91,
  "view": {"fill": "#e3e9fb"},
  "layer": [
    {"data": {"name": "w"}, "mark": {"type": "bar", "size": 1.8},
     "encoding": {"x": {"field": "d", "type": "temporal", "scale": {"domain": [{"year": 2009, "month": 9, "date": 13, "hours": 17, "utc": true}, {"year": 2014, "month": 2, "date": 3, "utc": true}]}, "axis": null},
       "y": {"field": "v", "type": "quantitative", "scale": {"domain": [0, 135800], "nice": false, "zero": false},
             "axis": {"orient": "right", "title": null, "values": [50000, 100000], "labelExpr": "replace(format(datum.value, ',d'), ',', '.')"}},
       "fill": {"condition": {"test": "datum.c >= datum.o", "value": "#4fd84f"}, "value": "#e06464"}}},
    {"data": {"name": "vbox"},
     "encoding": {"x": {"field": "d", "type": "temporal", "axis": null}, "y": {"field": "v", "type": "quantitative", "axis": {"title": null}}},
     "layer": [
       {"mark": {"type": "point", "shape": "M-1,-0.32L1,-0.32L1,0.32L-1,0.32Z", "size": 1444, "filled": true, "opacity": 1, "stroke": "#7d90a3", "strokeWidth": 1, "clip": false, "fill": "#e8eef6"}},
       {"mark": {"type": "text", "fontSize": 11.5, "clip": false, "fill": "#e06060"}, "encoding": {"text": {"field": "t"}}}
     ]},
    {"data": {"values": [{"k": "Volumen"}]},
     "mark": {"type": "point", "opacity": 0, "size": 0, "strokeWidth": 0},
     "encoding": {"color": {"field": "k", "type": "nominal", "scale": {"domain": ["Volumen"], "range": ["#e06060"]}, "legend": {"title": null, "labelColor": "#e06060"}}}}
  ]
},
{
  "width": 747, "height": 118,
  "view": {"fill": "#dde6fa"},
  "layer": [
    {"data": {"name": "w"}, "mark": {"type": "bar", "size": 2},
     "encoding": {"x": {"field": "d", "type": "temporal", "scale": {"domain": [{"year": 2009, "month": 9, "date": 13, "hours": 17, "utc": true}, {"year": 2014, "month": 2, "date": 3, "utc": true}]},
         "axis": {"orient": "bottom", "title": null, "tickSize": 4, "labelPadding": 3,
           "values": [{"year": 2010, "month": 1, "date": 4, "utc": true}, {"year": 2010, "month": 4, "date": 5, "utc": true}, {"year": 2010, "month": 7, "date": 5, "utc": true}, {"year": 2010, "month": 10, "date": 4, "utc": true}, {"year": 2011, "month": 1, "date": 3, "utc": true}, {"year": 2011, "month": 4, "date": 4, "utc": true}, {"year": 2011, "month": 7, "date": 4, "utc": true}, {"year": 2011, "month": 10, "date": 3, "utc": true}, {"year": 2012, "month": 1, "date": 2, "utc": true}, {"year": 2012, "month": 4, "date": 2, "utc": true}, {"year": 2012, "month": 7, "date": 2, "utc": true}, {"year": 2012, "month": 10, "date": 1, "utc": true}, {"year": 2013, "month": 1, "date": 7, "utc": true}, {"year": 2013, "month": 4, "date": 1, "utc": true}, {"year": 2013, "month": 7, "date": 1, "utc": true}, {"year": 2013, "month": 10, "date": 7, "utc": true}],
           "labelExpr": "utcmonth(datum.value) == 0 ? '' + utcyear(datum.value) : utcmonth(datum.value) == 3 ? 'Apr' : utcmonth(datum.value) == 6 ? 'Jul' : 'Okt'",
           "labelFontSize": {"condition": {"test": "utcmonth(datum.value) == 0", "value": 12.5}, "value": 11.5},
           "labelFontWeight": {"condition": {"test": "utcmonth(datum.value) == 0", "value": "bold"}, "value": "normal"}}},
       "y": {"field": "m", "type": "quantitative", "scale": {"domain": [-1.296, 1.968], "nice": false, "zero": false},
             "axis": {"orient": "right", "title": null, "values": [-1, -0.5, 0, 0.5, 1], "labelExpr": "replace('' + datum.value, '.', ',')"}},
       "fill": {"condition": {"test": "datum.m >= 0", "value": "#4fd84f"}, "value": "#e06464"}}},
    {"data": {"values": [{}]}, "mark": {"type": "rule", "color": "#2a3ad0", "strokeWidth": 1.3},
     "encoding": {"y": {"datum": 0, "type": "quantitative", "axis": {"title": null}}}},
    {"data": {"name": "macd"}, "mark": {"type": "area", "opacity": 0.8},
     "encoding": {"x": {"field": "d", "type": "temporal", "axis": {"title": null}}, "y": {"field": "m", "type": "quantitative", "axis": {"title": null}}, "y2": {"field": "s"}, "detail": {"field": "seg"},
       "fill": {"condition": {"test": "datum.tr == 'G'", "value": "#4fd84f"}, "value": "#dc6f6f"}}},
    {"data": {"name": "macd"}, "mark": {"type": "line", "color": "#e06060", "strokeWidth": 1.3},
     "encoding": {"x": {"field": "d", "type": "temporal", "axis": {"title": null}}, "y": {"field": "s", "type": "quantitative", "axis": {"title": null}}}},
    {"data": {"name": "macd"}, "mark": {"type": "line", "color": "#2a30e0", "strokeWidth": 1.5},
     "encoding": {"x": {"field": "d", "type": "temporal", "axis": {"title": null}}, "y": {"field": "m", "type": "quantitative", "axis": {"title": null}}}},
    {"data": {"name": "mbox"}, "transform": [{"filter": "datum.z == 0"}],
     "encoding": {"x": {"field": "d", "type": "temporal", "axis": {"title": null}}, "y": {"field": "v", "type": "quantitative", "axis": {"title": null}}},
     "layer": [
       {"mark": {"type": "point", "shape": "M-1,-0.32L1,-0.32L1,0.32L-1,0.32Z", "size": 1444, "filled": true, "opacity": 1, "stroke": "#7d90a3", "strokeWidth": 1, "clip": false, "fill": "#e8eef6"}},
       {"mark": {"type": "text", "fontSize": 11.5, "clip": false},
        "encoding": {"text": {"field": "t"}, "fill": {"condition": [{"test": "datum.k == 'b'", "value": "#1c1cf0"}, {"test": "datum.k == 'g'", "value": "#22dd22"}, {"test": "datum.k == 'p'", "value": "#e06060"}], "value": "#000000"}}}
     ]},
    {"data": {"name": "mbox"}, "transform": [{"filter": "datum.z == 1"}],
     "encoding": {"x": {"field": "d", "type": "temporal", "axis": {"title": null}}, "y": {"field": "v", "type": "quantitative", "axis": {"title": null}}},
     "layer": [
       {"mark": {"type": "point", "shape": "M-1,-0.32L1,-0.32L1,0.32L-1,0.32Z", "size": 1444, "filled": true, "opacity": 1, "stroke": "#7d90a3", "strokeWidth": 1, "clip": false, "fill": "#e8eef6"}},
       {"mark": {"type": "text", "fontSize": 11.5, "clip": false},
        "encoding": {"text": {"field": "t"}, "fill": {"condition": [{"test": "datum.k == 'b'", "value": "#1c1cf0"}, {"test": "datum.k == 'g'", "value": "#22dd22"}, {"test": "datum.k == 'p'", "value": "#e06060"}], "value": "#000000"}}}
     ]},
    {"data": {"values": [{"k": "MACD-Signal"}, {"k": "Signal"}, {"k": "MACD (15,150,9)"}]},
     "mark": {"type": "point", "opacity": 0, "size": 0, "strokeWidth": 0},
     "encoding": {"color": {"field": "k", "type": "nominal", "scale": {"domain": ["MACD-Signal", "Signal", "MACD (15,150,9)"], "range": ["#22cc22", "#e06060", "#2020dd"]},
        "legend": {"title": null, "labelColor": {"expr": "datum.label == 'MACD-Signal' ? '#22cc22' : datum.label == 'Signal' ? '#e06060' : '#2020dd'"}}}}}
  ]
}
]
}
